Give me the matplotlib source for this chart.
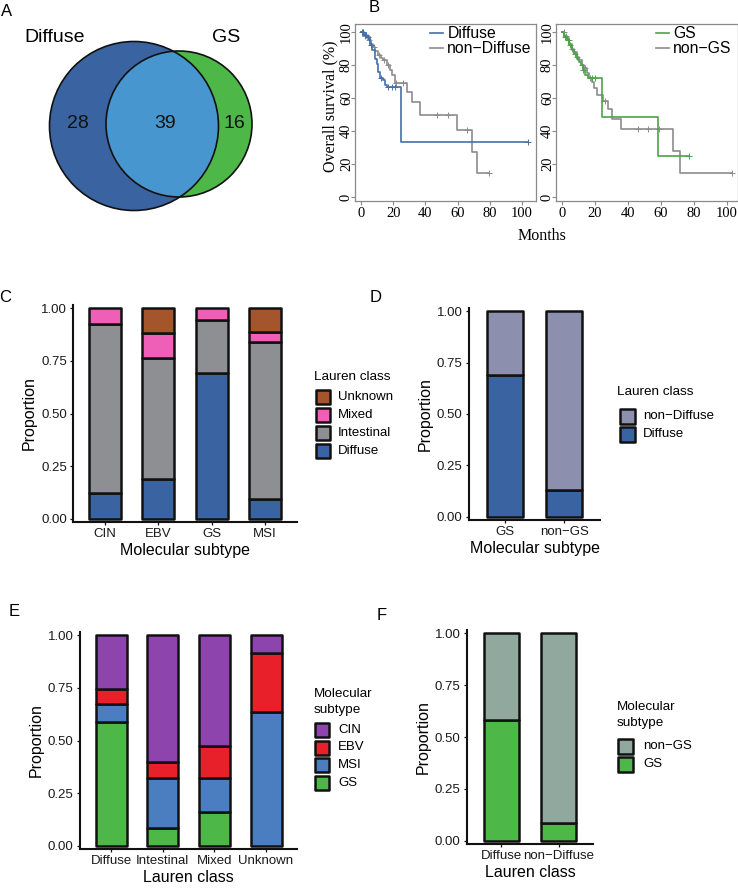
import numpy as np
import matplotlib
matplotlib.use("Agg")
import matplotlib.pyplot as plt
from matplotlib.patches import Circle, Rectangle
from matplotlib.lines import Line2D

# ---------------- data ----------------
venn_labels = ["Diffuse", "GS"]
venn_counts = [28, 39, 16]          # Diffuse only, both, GS only

# Kaplan-Meier step points (time in months, survival %)
diffuse_t = [0, 2.0, 3.5, 5.6, 7.0, 8.7, 9.7, 10.8, 11.8, 13.9, 14.9, 16.0, 24.8]
diffuse_s = [100, 98.5, 97, 92, 89, 84, 81, 76, 72, 71, 68, 66.5, 33.5]
diffuse_end = 104
diffuse_cens = [0.8, 1.5, 2.5, 3.0, 4.5, 6.2, 12.5, 16.8, 19.0, 21.0, 104]

nondiff_t = [0, 1.5, 3, 4.6, 6, 7.7, 9, 10.8, 12.5, 13.9, 16, 18, 19.5, 21, 28.4, 31.5, 36.6, 59.4, 68.7, 71.8]
nondiff_s = [100, 98, 97, 95, 93, 91, 88.5, 86, 84.5, 83, 80, 77, 74, 69.3, 63.8, 57.8, 50, 40.6, 27.5, 14.7]
nondiff_end = 79.5
nondiff_cens = [1, 2.5, 5, 8, 11, 14, 17, 22, 26, 47, 54, 65.6, 79.5]

gs_t = [0, 1.5, 3, 4.5, 6, 7.5, 9, 10.5, 11.5, 12.5, 14, 16, 24.4, 58]
gs_s = [100, 97, 95, 92, 89, 86.5, 84, 82, 80, 77, 74, 72, 48.3, 25]
gs_end = 77
gs_cens = [2, 3.5, 5, 8, 13, 18, 20, 77]

nongs_t = [0, 1.5, 3, 4.5, 6, 7.5, 9, 10.5, 12, 13.5, 15, 16.5, 18, 19.6, 21.4, 25, 28, 30.5, 35.8, 67.5, 71.5]
nongs_s = [100, 97.5, 95, 93, 90, 88, 85, 83, 80, 78, 75, 72, 70, 66, 62, 58, 53.5, 47.5, 41, 28, 14.7]
nongs_end = 103
nongs_cens = [1, 2.5, 4, 6, 9, 12, 14, 17, 26, 46, 52, 59, 103]

# Panel C: Lauren class by molecular subtype
c_cats = ["CIN", "EBV", "GS", "MSI"]
c_diffuse = [0.123, 0.19, 0.69, 0.095]
c_intestinal = [0.801, 0.573, 0.253, 0.744]
c_mixed = [0.076, 0.117, 0.057, 0.047]
c_unknown = [0.0, 0.12, 0.0, 0.114]

# Panel D
d_cats = ["GS", "non\u2212GS"]
d_diffuse = [0.69, 0.13]
d_nondiffuse = [0.31, 0.87]

# Panel E: molecular subtype by Lauren class
e_cats = ["Diffuse", "Intestinal", "Mixed", "Unknown"]
e_gs = [0.587, 0.085, 0.16, 0.0]
e_msi = [0.086, 0.235, 0.16, 0.635]
e_ebv = [0.071, 0.08, 0.154, 0.28]
e_cin = [0.256, 0.60, 0.526, 0.085]

# Panel F
f_cats = ["Diffuse", "non\u2212Diffuse"]
f_gs = [0.58, 0.087]
f_nongs = [0.42, 0.913]

# ---------------- style ----------------
W, H = 738, 893
fig = plt.figure(figsize=(W / 100, H / 100), dpi=100)
SANS = ["Liberation Sans", "DejaVu Sans"]
SERIF = ["Liberation Serif", "DejaVu Serif"]

C_DIFF = "#3A63A1"
C_OVER = "#4896CF"
C_GREEN = "#4DB748"
C_INT = "#8E8F92"
C_MIX = "#EF5FB8"
C_UNK = "#A4552B"
C_NONDIFF = "#8C8FAE"
C_CIN = "#8E44AD"
C_EBV = "#E8202A"
C_MSI = "#4A7EC0"
C_NONGS = "#91A89F"
C_KMBLUE = "#4470A8"
C_KMGRAY = "#8C8C8C"
C_KMGREEN = "#4AA447"


def ax_px(x0, y0, x1, y1):
    return fig.add_axes([x0 / W, 1 - y1 / H, (x1 - x0) / W, (y1 - y0) / H])


def fx(x):
    return x / W


def fy(y):
    return 1 - y / H


def panel_label(x, y, s):
    fig.text(fx(x), fy(y), s, fontsize=12, family=SANS, ha="center", va="center")


# ---------------- A: Venn ----------------
av = ax_px(0, 0, 300, 260)
av.set_xlim(0, 300)
av.set_ylim(260, 0)
av.axis("off")
c_d = Circle((134, 126), 84.5, facecolor=C_DIFF, edgecolor="none")
c_g = Circle((179, 124), 73, facecolor=C_GREEN, edgecolor="none")
av.add_patch(c_d)
av.add_patch(c_g)
c_o = Circle((179, 124), 73, facecolor=C_OVER, edgecolor="none")
av.add_patch(c_o)
c_o.set_clip_path(c_d)
av.add_patch(Circle((134, 126), 84.5, fill=False, edgecolor="#111111", lw=1.2))
av.add_patch(Circle((179, 124), 73, fill=False, edgecolor="#111111", lw=1.2))
av.text(55, 37, venn_labels[0], fontsize=14, family=SANS, ha="center", va="center")
av.text(226, 37, venn_labels[1], fontsize=14, family=SANS, ha="center", va="center")
av.text(78, 124, str(venn_counts[0]), fontsize=14, family=SANS, ha="center", va="center", color="#111")
av.text(165, 124, str(venn_counts[1]), fontsize=14, family=SANS, ha="center", va="center", color="#111")
av.text(234, 124, str(venn_counts[2]), fontsize=14, family=SANS, ha="center", va="center", color="#111")
panel_label(7, 12, "A")

# ---------------- B: KM ----------------


def km_plot(ax, curves, xlim):
    handles = []
    for t, s, tend, cens, color in curves:
        t = np.asarray(t, float)
        s = np.asarray(s, float)
        ax.step(np.r_[t, tend], np.r_[s, s[-1]], where="post", color=color, lw=1.2)
        cens = np.asarray(cens, float)
        idx = np.searchsorted(t, cens, side="right") - 1
        ax.plot(cens, s[idx], linestyle="none", marker="+", ms=4, mew=0.7, color=color)
        handles.append(Line2D([0], [0], color=color, lw=1.2))
    ax.set_xlim(*xlim)
    ax.set_ylim(-2.5, 105)
    ax.set_xticks(range(0, 101, 20))
    ax.set_yticks(range(0, 101, 20))
    for sp in ax.spines.values():
        sp.set_color("#8a8a8a")
        sp.set_linewidth(0.9)
    ax.tick_params(direction="out", length=3, width=0.8, color="#8a8a8a", labelsize=10.5)
    ax.tick_params(axis="x", pad=1.5)
    ax.tick_params(axis="y", pad=-1.5)
    for lab in ax.get_xticklabels() + ax.get_yticklabels():
        lab.set_family(SERIF)
    for lab in ax.get_yticklabels():
        lab.set_rotation(90)
        lab.set_va("center")
    return handles


ak1 = ax_px(355, 24, 536, 201)
h1 = km_plot(ak1, [(nondiff_t, nondiff_s, nondiff_end, nondiff_cens, C_KMGRAY),
                   (diffuse_t, diffuse_s, diffuse_end, diffuse_cens, C_KMBLUE)],
             (-3.7, 108.7))
ak1.legend([h1[1], h1[0]], ["Diffuse", "non\u2212Diffuse"], loc="upper left",
           bbox_to_anchor=((430 - 355) / 181, (201 - 26) / 177), frameon=False,
           prop={"family": SANS, "size": 11.3}, handlelength=0.8, handletextpad=0.3,
           labelspacing=0.02, borderpad=0, borderaxespad=0)

ak2 = ax_px(556, 24, 738, 201)
h2 = km_plot(ak2, [(nongs_t, nongs_s, nongs_end, nongs_cens, C_KMGRAY),
                   (gs_t, gs_s, gs_end, gs_cens, C_KMGREEN)],
             (-3.6, 106.7))
ak2.legend([h2[1], h2[0]], ["GS", "non\u2212GS"], loc="upper left",
           bbox_to_anchor=((656 - 556) / 182, (201 - 26) / 177), frameon=False,
           prop={"family": SANS, "size": 11.3}, handlelength=0.8, handletextpad=0.3,
           labelspacing=0.02, borderpad=0, borderaxespad=0)

fig.text(fx(330), fy(106), "Overall survival (%)", rotation=90, fontsize=11.5,
         family=SERIF, ha="center", va="center")
fig.text(fx(542), fy(236), "Months", fontsize=11.5, family=SERIF, ha="center", va="center")
panel_label(374, 8, "B")

# ---------------- bar panels ----------------


def stacked(ax, cats, layers, xlabel):
    x = np.arange(1, len(cats) + 1)
    bottom = np.zeros(len(cats))
    for name, vals, color in layers:
        vals = np.asarray(vals, float)
        m = vals > 0
        ax.bar(x[m], vals[m], 0.6, bottom=bottom[m], color=color, edgecolor="#111111",
               linewidth=1.8, joinstyle="round")
        bottom = bottom + vals
    ax.set_xlim(0.4, len(cats) + 0.6)
    ax.set_ylim(-0.015, 1.015)
    ax.set_xticks(x)
    ax.set_xticklabels(cats)
    ax.set_yticks([0, 0.25, 0.5, 0.75, 1.0])
    ax.set_yticklabels(["0.00", "0.25", "0.50", "0.75", "1.00"])
    for s in ["top", "right"]:
        ax.spines[s].set_visible(False)
    for s in ["left", "bottom"]:
        ax.spines[s].set_linewidth(1.5)
        ax.spines[s].set_color("#111111")
    ax.tick_params(direction="out", length=2.5, width=0.9, color="#111111",
                   labelsize=9.5, labelcolor="#1a1a1a", pad=2)
    for lab in ax.get_xticklabels() + ax.get_yticklabels():
        lab.set_family(SANS)
    ax.set_ylabel("Proportion", fontsize=11.5, family=SANS, labelpad=3)
    ax.set_xlabel(xlabel, fontsize=11.5, family=SANS, labelpad=2)


def legend(x_title, title_ys, title_lines, key_x0, key_x1, rows, items, text_x):
    for ty, line in zip(title_ys, title_lines):
        fig.text(fx(x_title), fy(ty), line, fontsize=9.7, family=SANS, ha="left", va="center")
    size = key_x1 - key_x0
    for ry, (name, color) in zip(rows, items):
        fig.add_artist(Rectangle((fx(key_x0), fy(ry + size / 2)), size / W, size / H,
                                 transform=fig.transFigure, facecolor=color,
                                 edgecolor="#111111", linewidth=1.8, joinstyle="round"))
        fig.text(fx(text_x), fy(ry), name, fontsize=9.5, family=SANS, ha="left", va="center")


# C
ac = ax_px(73, 305, 297, 522)
stacked(ac, c_cats, [("Diffuse", c_diffuse, C_DIFF), ("Intestinal", c_intestinal, C_INT),
                     ("Mixed", c_mixed, C_MIX), ("Unknown", c_unknown, C_UNK)],
        "Molecular subtype")
legend(314, [377], ["Lauren class"], 316, 330, [397, 415, 433, 450.5],
       [("Unknown", C_UNK), ("Mixed", C_MIX), ("Intestinal", C_INT), ("Diffuse", C_DIFF)], 338)
panel_label(5, 297, "C")

# D
ad = ax_px(469, 308, 600, 520)
stacked(ad, d_cats, [("Diffuse", d_diffuse, C_DIFF), ("non-Diffuse", d_nondiffuse, C_NONDIFF)],
        "Molecular subtype")
legend(617, [392], ["Lauren class"], 620, 635, [416, 434],
       [("non\u2212Diffuse", C_NONDIFF), ("Diffuse", C_DIFF)], 643)
panel_label(376, 298, "D")

# E
ae = ax_px(80, 632, 297, 849)
stacked(ae, e_cats, [("GS", e_gs, C_GREEN), ("MSI", e_msi, C_MSI),
                     ("EBV", e_ebv, C_EBV), ("CIN", e_cin, C_CIN)],
        "Lauren class")
legend(314, [694, 710], ["Molecular", "subtype"], 315, 329, [730, 747.5, 765, 782.5],
       [("CIN", C_CIN), ("EBV", C_EBV), ("MSI", C_MSI), ("GS", C_GREEN)], 338)
panel_label(14, 611, "E")

# F
af = ax_px(467, 630, 593, 844)
stacked(af, f_cats, [("GS", f_gs, C_GREEN), ("non-GS", f_nongs, C_NONGS)], "Lauren class")
legend(617, [707, 723], ["Molecular", "subtype"], 618, 633, [746, 764],
       [("non\u2212GS", C_NONGS), ("GS", C_GREEN)], 643)
panel_label(382, 616, "F")

fig.savefig("out.png", dpi=100)
